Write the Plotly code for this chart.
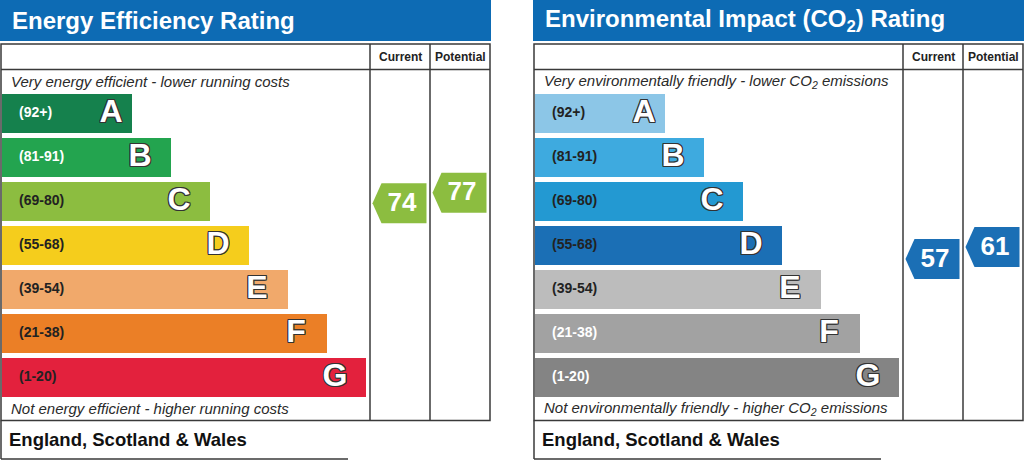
import plotly.graph_objects as go

# rating bands, top (best) to bottom (worst)
bands = ["A", "B", "C", "D", "E", "F", "G"]
band_ranges = ["(92+)", "(81-91)", "(69-80)", "(55-68)", "(39-54)", "(21-38)", "(1-20)"]
band_min = [92, 81, 69, 55, 39, 21, 1]
band_max = [100, 91, 80, 68, 54, 38, 20]

ee_colors = ["#15814d", "#23a44f", "#8cbd40", "#f5cd1c", "#f1a96b", "#eb7f26", "#e3213d"]
ee_label_colors = ["white", "white", "#222", "#222", "#222", "#222", "#222"]
ei_colors = ["#8cc6e7", "#3eaadf", "#2399d2", "#1b6fb5", "#bcbcbc", "#a2a2a2", "#848484"]
ei_label_colors = ["#222", "#222", "#222", "#222", "#222", "white", "white"]

ee_current, ee_potential = 74, 77
ei_current, ei_potential = 57, 61

FONT = "Liberation Sans, Arial, sans-serif"
BORDER = "#3a3a3a"

# panel geometry (pixels)
BAND_TOP = 94
BAND_PITCH = 44
BAND_H = 39
BAND_W0 = 130
BAND_STEP = 39
OUTLINE = ", ".join(f"{dx}px {dy}px 0 #333" for dx in (-1, 0, 1) for dy in (-1, 0, 1) if dx or dy)

fig = go.Figure()
shapes = []
annotations = []


def band_of(v):
    for i in range(len(bands)):
        if band_min[i] <= v <= band_max[i]:
            return i
    return len(bands) - 1


def value_y(v):
    i = band_of(v)
    top = BAND_TOP + i * BAND_PITCH
    return top + (band_max[i] - v) / (band_max[i] - band_min[i]) * BAND_H


def add_panel(x0, title, top_text, bottom_text, colors, label_colors, current, potential):
    col1, col2, right = x0 + 370, x0 + 430, x0 + 490
    # title bar
    shapes.append(dict(type="rect", x0=x0, x1=x0 + 491, y0=0, y1=41, fillcolor="#0d6bb4", line_width=0, layer="below"))
    annotations.append(dict(x=x0 + 10, y=20.5, text=title, showarrow=False, xanchor="left", yanchor="middle",
                            font=dict(family=FONT, size=24, color="white", weight="bold")))
    # table frame
    line = dict(color=BORDER, width=1.5)
    shapes.append(dict(type="rect", x0=x0 + 1, x1=right, y0=44, y1=420.5, line=line, fillcolor="white", layer="below"))
    shapes.append(dict(type="line", x0=x0 + 1, x1=right, y0=69.5, y1=69.5, line=line))
    shapes.append(dict(type="line", x0=col1, x1=col1, y0=44, y1=420.5, line=line))
    shapes.append(dict(type="line", x0=col2, x1=col2, y0=44, y1=420.5, line=line))
    # footer: left and bottom edges only
    shapes.append(dict(type="line", x0=x0 + 1, x1=x0 + 1, y0=420.5, y1=459, line=line))
    shapes.append(dict(type="line", x0=x0 + 1, x1=x0 + 348, y0=459, y1=459, line=line))
    annotations.append(dict(x=x0 + 7, y=439.5, text="England, Scotland & Wales", showarrow=False, xanchor="left",
                            font=dict(family=FONT, size=18.5, color="#111", weight="bold")))
    for cx, txt in (((col1 + col2) / 2, "Current"), ((col2 + right) / 2, "Potential")):
        annotations.append(dict(x=cx, y=57, text=txt, showarrow=False,
                                font=dict(family=FONT, size=12, color="#222", weight="bold")))
    for yy, txt in ((81, top_text), (408.5, bottom_text)):
        annotations.append(dict(x=x0 + 9, y=yy, text=txt, showarrow=False, xanchor="left",
                                font=dict(family=FONT, size=15, color="#2a2a2a", style="italic")))

    centers = [BAND_TOP + i * BAND_PITCH + BAND_H / 2 for i in range(len(bands))]
    widths = [BAND_W0 + i * BAND_STEP for i in range(len(bands))]
    fig.add_trace(go.Bar(orientation="h", y=centers, x=widths, base=x0 + 2, width=BAND_H,
                         marker=dict(color=colors, line_width=0), hoverinfo="skip"))
    fig.add_trace(go.Scatter(x=[x0 + 19] * len(bands), y=centers, mode="text", text=band_ranges,
                             textposition="middle right", hoverinfo="skip",
                             textfont=dict(family=FONT, size=14, color=label_colors, weight="bold")))
    # letter sits ~31px in from the band end (the short top band a bit closer)
    letter_x = [x0 + 2 + w - (21 if i == 0 else 31) for i, w in enumerate(widths)]
    fig.add_trace(go.Scatter(x=letter_x, y=centers, mode="text", text=bands,
                             textposition="middle center", hoverinfo="skip",
                             textfont=dict(family=FONT, size=32, color="white", weight="bold", shadow=OUTLINE)))

    for (cl, cr), v in (((col1, col2), current), ((col2, right), potential)):
        cy = value_y(v)
        ax0, ax1, tip = cl + 2.5, cr - 3.5, 9
        xs = [ax0, ax0 + tip, ax1, ax1, ax0 + tip, ax0]
        ys = [cy, cy - 20, cy - 20, cy + 20, cy + 20, cy]
        fig.add_trace(go.Scatter(x=xs, y=ys, mode="lines", fill="toself", fillcolor=colors[band_of(v)],
                                 line=dict(width=0, color=colors[band_of(v)]), hoverinfo="skip"))
        fig.add_trace(go.Scatter(x=[(ax0 + tip + ax1) / 2 - 2], y=[cy + 1], mode="text", text=[str(v)],
                                 textposition="middle center", hoverinfo="skip",
                                 textfont=dict(family=FONT, size=26, color="white", weight="bold")))


add_panel(0, "Energy Efficiency Rating",
          "Very energy efficient - lower running costs",
          "Not energy efficient - higher running costs",
          ee_colors, ee_label_colors, ee_current, ee_potential)
add_panel(533, "Environmental Impact (CO<sub>2</sub>) Rating",
          "Very environmentally friendly - lower CO<sub>2</sub> emissions",
          "Not environmentally friendly - higher CO<sub>2</sub> emissions",
          ei_colors, ei_label_colors, ei_current, ei_potential)

fig.update_layout(
    width=1024, height=460,
    margin=dict(l=0, r=0, t=0, b=0),
    paper_bgcolor="white", plot_bgcolor="white",
    showlegend=False, barmode="overlay",
    xaxis=dict(range=[0, 1024], visible=False, fixedrange=True),
    yaxis=dict(range=[460, 0], visible=False, fixedrange=True),
    shapes=shapes, annotations=annotations,
)

# drop the page's default body margin so the figure sits at the window's corner
fig.write_html("out.html", config={"displayModeBar": False},
               post_script="document.body.style.margin='0'; document.body.style.overflow='hidden';")
